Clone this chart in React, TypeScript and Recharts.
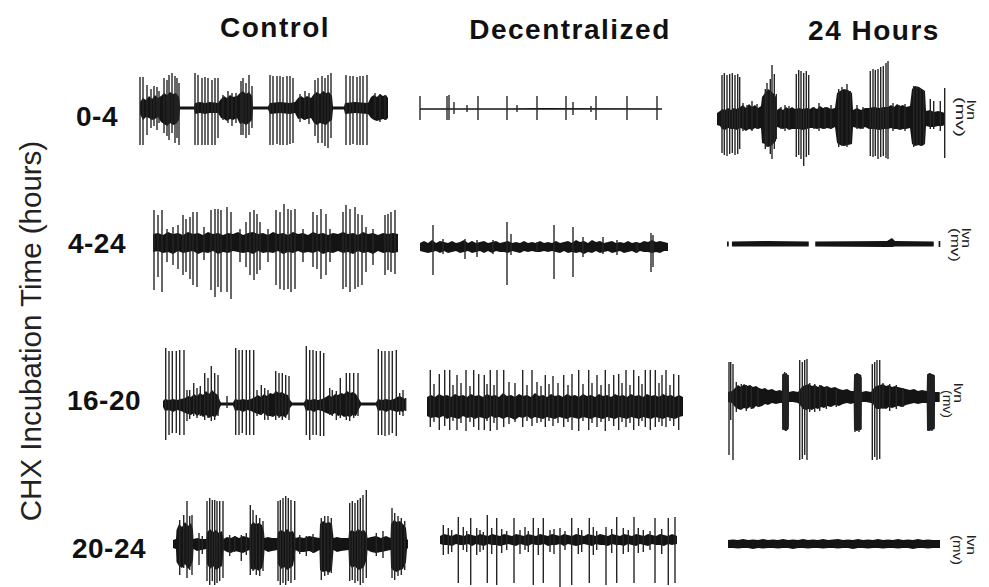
import { ComposedChart, XAxis, YAxis, Area, Scatter, ErrorBar } from "recharts";

// column / row categories
const columns = ["Control", "Decentralized", "24 Hours"];
const rowLabels = ["0-4", "4-24", "16-20", "20-24"];
const yTitle = "CHX Incubation Time (hours)";
const unitLabel = ["lvn", "(mv)"];

// each trace: spikes = [time, up, down], band = noise envelope [time, up, down]
const ctl04Spikes = [
  [0, 31, 37], [3, 31, 37], [7, 23, 27], [11, 19, 20], [14, 22, 18], [17, 21, 22], [19, 17, 15],
  [24, 30, 25], [27, 28, 28], [29, 33, 32], [32, 35, 25], [35, 32, 35], [37, 30, 30], [39, 25, 37],
  [55, 35, 37], [58, 33, 37], [62, 30, 37], [65, 31, 37], [68, 30, 37], [72, 28, 37], [75, 30, 37], [78, 30, 30],
  [83, 13, 12], [88, 17, 15], [92, 15, 18], [96, 15, 15],
  [101, 27, 27], [103, 30, 27], [106, 25, 30], [109, 33, 27], [112, 22, 20],
  [130, 33, 37], [133, 32, 37], [137, 32, 36], [140, 32, 37], [143, 31, 37], [147, 32, 37], [150, 32, 36], [153, 30, 35],
  [160, 14, 14], [165, 17, 12], [169, 15, 16],
  [175, 28, 28], [178, 30, 35], [182, 32, 35], [185, 30, 38], [188, 33, 40], [191, 35, 30],
  [206, 33, 37], [210, 32, 37], [213, 32, 36], [217, 31, 37], [220, 32, 37], [223, 32, 37], [227, 33, 37],
  [235, 15, 10], [240, 14, 14], [245, 13, 12],
];
const ctl04Band = [
  [0, 6, 6], [3, 10, 12], [6, 8, 9], [9, 12, 10], [12, 9, 12], [15, 13, 11], [18, 10, 9], [21, 12, 14],
  [24, 15, 16], [27, 13, 18], [30, 16, 15], [33, 14, 17], [36, 15, 16], [39, 11, 12], [40, 1.5, 1.5],
  [54, 1.5, 1.5], [55, 5, 6], [60, 6, 5], [65, 5, 6], [70, 6, 5], [78, 5, 5], [81, 9, 10], [84, 12, 11],
  [87, 10, 13], [90, 13, 11], [93, 11, 12], [97, 12, 10], [100, 15, 16], [103, 17, 15], [106, 14, 17],
  [109, 16, 15], [112, 12, 12], [113, 1.5, 1.5], [128, 1.5, 1.5], [130, 5, 6], [140, 6, 5], [150, 5, 6],
  [155, 6, 5], [158, 10, 11], [161, 12, 10], [164, 10, 12], [167, 12, 11], [171, 10, 10], [174, 14, 15],
  [177, 16, 17], [180, 14, 15], [183, 17, 16], [186, 15, 17], [189, 16, 14], [192, 12, 12], [193, 1.5, 1.5],
  [204, 1.5, 1.5], [205, 5, 6], [215, 6, 5], [228, 5, 6], [231, 11, 10], [234, 13, 12], [237, 11, 13],
  [240, 14, 12], [243, 12, 11], [246, 13, 12], [248, 10, 10],
];

const dec04Spikes = [
  [0, 13, 11], [27, 13, 11], [29, 14, 11], [34, 7, 5], [47, 4, 3], [58, 13, 11], [87, 13, 11], [97, 4, 3],
  [117, 13, 11], [146, 13, 11], [153, 7, 6], [171, 3, 3], [176, 13, 11], [207, 13, 11], [237, 13, 11],
];
const dec04Band = [[0, 0.8, 0.8], [120, 0.9, 0.8], [242, 0.8, 0.8]];

const hrs04Spikes = [
  [5, 44, 34], [7.3, 46, 36], [10, 44, 37], [12.7, 45, 35], [15.3, 46, 34], [18, 44, 36], [20.7, 45, 35], [22.7, 42, 30],
  [26, 16, 12], [30, 14, 10], [35, 18, 12], [40, 15, 10],
  [48.3, 30, 30], [50, 36, 28], [53.3, 40, 35], [55, 54, 40], [57.3, 45, 30], [59.3, 25, 20],
  [64, 12, 10], [68, 14, 12], [72, 13, 10],
  [79.3, 45, 38], [81.7, 49, 36], [84, 48, 40], [86.7, 46, 47], [89.3, 48, 38], [91.7, 44, 36],
  [97, 12, 10], [102, 16, 12], [108, 12, 10], [114, 14, 10],
  [121.7, 30, 28], [125, 32, 27], [130, 35, 28], [133.3, 28, 25],
  [140, 14, 10], [146, 12, 10],
  [153.3, 48, 37], [156, 50, 38], [158.3, 49, 37], [161, 50, 40], [163.7, 52, 38], [166.3, 53, 37], [169, 56, 39], [171, 58, 40],
  [176, 16, 12], [182, 14, 10], [188, 15, 12],
  [196.7, 33, 28], [200, 32, 26], [203.3, 30, 27], [206.7, 28, 25],
  [213.3, 20, 10], [216.7, 18, 10], [223.3, 18, 12], [227.7, 31, 39],
];
const hrs04Band = [
  [0, 6, 6], [3, 8, 7], [5, 10, 10], [8, 9, 11], [11, 11, 9], [14, 9, 10], [17, 11, 10], [20, 10, 11],
  [23, 12, 9], [26, 14, 10], [29, 11, 12], [32, 15, 10], [35, 12, 11], [38, 14, 9], [41, 11, 10], [44, 13, 9],
  [45, 22, 24], [48, 26, 25], [51, 30, 28], [54, 28, 27], [57, 25, 24], [59, 22, 22], [60, 9, 8], [63, 11, 9],
  [66, 9, 10], [69, 12, 9], [72, 10, 11], [75, 12, 10], [78, 10, 10], [82, 11, 10], [86, 10, 11], [90, 11, 10],
  [93, 10, 9], [96, 12, 9], [100, 10, 10], [103, 13, 9], [106, 11, 10], [110, 12, 9], [114, 10, 10],
  [118, 11, 8], [120, 26, 24], [123, 28, 26], [127, 30, 27], [131, 29, 26], [135, 26, 25], [136, 9, 8],
  [140, 11, 9], [144, 9, 10], [148, 11, 8], [152, 11, 10], [157, 12, 10], [162, 11, 11], [167, 12, 10],
  [171, 12, 10], [174, 14, 9], [177, 12, 10], [180, 15, 10], [183, 13, 11], [186, 14, 10], [189, 12, 10],
  [193, 13, 9], [195, 30, 25], [198, 33, 27], [202, 32, 26], [205, 30, 27], [208, 28, 25], [209, 8, 7],
  [213, 9, 8], [217, 7, 8], [221, 8, 7], [225, 7, 7], [228, 6, 6],
];

const ctl424Spikes = [
  [1, 33, 47], [5, 28, 34], [9, 33, 49], [14, 14, 19], [20, 16, 22], [25, 18, 26], [30, 28, 32], [33, 24, 29],
  [37, 26, 36], [40, 31, 42], [44, 31, 44], [51, 16, 17], [58, 33, 47], [62, 34, 54], [65, 34, 44], [68, 33, 49],
  [74, 36, 49], [78, 31, 56], [87, 14, 19], [93, 21, 24], [97, 31, 32], [101, 33, 37], [104, 29, 31], [107, 21, 27],
  [115, 14, 19], [123, 33, 42], [127, 31, 46], [131, 39, 47], [135, 34, 46], [138, 33, 49], [142, 34, 46],
  [150, 14, 19], [160, 31, 24], [164, 28, 26], [168, 34, 36], [173, 29, 32], [177, 14, 19], [190, 31, 46],
  [193, 38, 44], [197, 34, 49], [202, 36, 46], [205, 29, 44], [209, 28, 42], [213, 16, 29], [220, 14, 22],
  [232, 28, 32], [235, 29, 27], [238, 31, 29], [242, 33, 31],
];
const ctl424Band = [
  [0, 9, 9], [5, 10, 8], [10, 8, 10], [15, 11, 9], [20, 9, 11], [25, 10, 8], [30, 8, 10], [35, 11, 9],
  [40, 9, 8], [45, 10, 11], [50, 8, 9], [55, 11, 10], [60, 9, 8], [65, 10, 11], [70, 8, 9], [75, 10, 10],
  [80, 9, 8], [85, 11, 9], [90, 8, 10], [95, 10, 9], [100, 11, 11], [105, 9, 8], [110, 10, 10], [115, 8, 9],
  [120, 11, 10], [125, 9, 8], [130, 10, 11], [135, 8, 9], [140, 11, 10], [145, 9, 8], [150, 10, 10],
  [155, 8, 9], [160, 11, 10], [165, 9, 8], [170, 10, 11], [175, 8, 9], [180, 10, 10], [185, 9, 8],
  [190, 11, 10], [195, 9, 9], [200, 10, 11], [205, 8, 8], [210, 11, 10], [215, 9, 9], [220, 10, 11],
  [225, 8, 8], [230, 10, 10], [235, 9, 9], [240, 10, 10], [245, 9, 9],
];

const dec424Spikes = [
  [13, 22, 28], [23, 8, 7], [45, 8, 12], [57, 7, 10], [73, 7, 7], [87, 25, 38], [91, 13, 8], [117, 5, 5],
  [134, 22, 32], [153, 20, 30], [163, 10, 10], [183, 10, 7], [197, 7, 8], [217, 5, 6], [231, 14, 25], [233, 12, 20],
];
const dec424Band = [
  [0, 4, 4], [4, 6, 5], [8, 4, 6], [12, 7, 5], [16, 4, 4], [20, 6, 6], [24, 5, 4], [28, 4, 6], [32, 6, 5],
  [36, 4, 4], [40, 5, 6], [44, 7, 5], [48, 4, 4], [52, 6, 6], [56, 4, 5], [60, 5, 4], [64, 6, 6], [68, 4, 4],
  [72, 5, 6], [76, 6, 4], [80, 4, 5], [84, 5, 5], [88, 6, 6], [92, 4, 4], [96, 5, 5], [100, 4, 6], [104, 6, 4],
  [108, 4, 5], [112, 5, 4], [116, 4, 5], [120, 6, 5], [124, 4, 4], [128, 5, 5], [132, 4, 4], [136, 6, 5],
  [140, 4, 6], [144, 5, 4], [148, 6, 6], [152, 4, 5], [156, 7, 6], [160, 5, 5], [164, 6, 7], [168, 4, 5],
  [172, 7, 6], [176, 5, 4], [180, 6, 6], [184, 4, 5], [188, 5, 4], [192, 6, 6], [196, 4, 5], [200, 5, 4],
  [204, 4, 6], [208, 6, 5], [212, 4, 4], [216, 5, 6], [220, 4, 4], [224, 6, 5], [228, 5, 5], [232, 7, 6],
  [236, 5, 5], [240, 6, 6], [244, 5, 4], [248, 4, 4],
];

const hrs424Spikes: number[][] = [];
const hrs424Band = [
  [0, 2.5, 2.5], [1.7, 2.5, 2.5], [1.8, 0, 0], [4.9, 0, 0], [5, 2.5, 2.5], [40, 3, 2.5], [81.7, 2.5, 2.5],
  [81.8, 0, 0], [88.2, 0, 0], [88.3, 2.5, 2.5], [160, 3, 3], [165, 6, 3], [168, 3, 2.5], [206.7, 2.5, 2.5],
  [206.8, 0, 0], [211.6, 0, 0], [211.7, 3, 3], [213.3, 3, 3],
];

const ctl1620Spikes = [
  [2.7, 56, 36], [6, 53, 31], [9.3, 53, 29], [13.3, 53, 29], [16.7, 54, 31], [21, 54, 31],
  [24, 14, 17], [26.7, 14, 15], [30.7, 21, 12], [34, 16, 14], [37.3, 18, 12], [41.7, 31, 16], [45, 26, 14],
  [48.3, 38, 17], [51.7, 31, 16], [55, 29, 12], [64, 8, 4],
  [72.7, 56, 31], [76, 54, 31], [79.3, 54, 29], [83.3, 54, 31], [86.7, 54, 31], [90.7, 54, 31],
  [94, 14, 12], [98.3, 19, 11], [101.7, 16, 16], [105, 14, 16], [112.7, 33, 16], [116, 31, 14], [119.3, 31, 16],
  [122.7, 29, 14], [126, 28, 16],
  [143.3, 58, 31], [146.7, 54, 36], [150, 54, 31], [153.3, 53, 31], [157.3, 53, 32], [160.7, 51, 32],
  [166.7, 16, 11], [169.3, 14, 12], [173.3, 13, 16], [177.3, 26, 14], [183.3, 31, 16], [186.7, 31, 17],
  [190.7, 31, 14], [195, 31, 12],
  [215.3, 55, 31], [218.7, 53, 31], [222, 53, 32], [226, 53, 31], [229.3, 53, 29], [233.3, 54, 32],
  [236.7, 11, 11], [240, 14, 12], [242.7, 6, 7],
];
const ctl1620Band = [
  [0, 3, 3], [2, 5, 7], [6, 4, 6], [10, 5, 8], [14, 4, 6], [18, 5, 7], [22, 6, 9], [25, 8, 10], [28, 7, 11],
  [31, 10, 9], [34, 8, 12], [37, 11, 10], [40, 9, 13], [43, 13, 11], [46, 10, 14], [49, 14, 12], [52, 11, 13],
  [55, 9, 10], [57, 3, 3], [58, 1.5, 1.5], [70, 1.5, 1.5], [72, 5, 7], [76, 4, 6], [80, 5, 8], [84, 4, 6],
  [88, 5, 7], [92, 7, 9], [95, 9, 10], [98, 7, 11], [101, 10, 9], [104, 8, 12], [107, 11, 12], [110, 10, 13],
  [113, 13, 11], [116, 11, 13], [119, 12, 12], [122, 10, 13], [125, 9, 10], [127, 4, 4], [129, 1.5, 1.5],
  [141, 1.5, 1.5], [143, 5, 7], [147, 4, 6], [151, 5, 8], [155, 4, 6], [159, 5, 7], [163, 7, 9], [166, 9, 10],
  [169, 7, 11], [172, 10, 9], [175, 9, 12], [178, 11, 11], [181, 10, 13], [184, 13, 12], [187, 11, 13],
  [190, 12, 11], [193, 10, 12], [196, 5, 5], [198, 1.5, 1.5], [213, 1.5, 1.5], [215, 5, 7], [219, 4, 6],
  [223, 5, 8], [227, 4, 6], [231, 5, 7], [234, 7, 8], [237, 8, 7], [240, 6, 8], [243, 5, 5],
];

const dec1620Spikes = [
  [3.3, 37, 20], [12.3, 33, 23], [17.7, 37, 19], [22.7, 37, 23], [30, 32, 23], [39, 37, 24], [46.7, 37, 20],
  [51.7, 33, 23], [57.3, 32, 23], [63.3, 37, 24], [70, 37, 23], [76.7, 37, 20], [95.7, 37, 20], [105, 37, 19],
  [118.3, 32, 20], [126, 31, 19], [136.7, 32, 20], [145, 33, 23], [151.7, 37, 24], [161.7, 37, 23],
  [170, 32, 20], [178.3, 37, 24], [186.7, 32, 19], [191.7, 33, 23], [199, 37, 20], [206.7, 37, 23],
  [211.7, 31, 19], [218.3, 37, 20], [223.3, 37, 23], [228.3, 37, 20], [235, 32, 19], [239, 37, 20],
  [246.7, 33, 19], [251.7, 32, 23],
  [7, 23, 15], [26, 22, 14], [34, 24, 16], [43, 21, 15], [60, 23, 14], [67, 22, 16], [82, 25, 17], [88, 24, 15],
  [100, 22, 14], [110, 25, 16], [114, 21, 15], [122, 23, 14], [131, 24, 16], [141, 22, 15], [156, 23, 14],
  [165, 24, 16], [174, 22, 15], [182, 23, 14], [195, 24, 15], [203, 22, 16], [215, 23, 14], [232, 24, 15],
  [243, 22, 14],
];
const dec1620Band = [
  [0, 10, 9], [4, 12, 11], [8, 10, 10], [12, 13, 11], [16, 11, 9], [20, 12, 12], [24, 10, 10], [28, 13, 11],
  [32, 11, 12], [36, 12, 9], [40, 10, 11], [44, 13, 10], [48, 11, 12], [52, 12, 10], [56, 10, 11], [60, 13, 12],
  [64, 11, 9], [68, 12, 11], [72, 10, 10], [76, 14, 12], [80, 11, 10], [84, 12, 11], [88, 10, 13], [92, 13, 10],
  [96, 11, 11], [100, 12, 9], [104, 10, 12], [108, 14, 10], [112, 11, 11], [116, 12, 12], [120, 10, 10],
  [124, 13, 11], [128, 11, 12], [132, 12, 10], [136, 10, 11], [140, 13, 12], [144, 11, 10], [148, 12, 11],
  [152, 10, 12], [156, 13, 10], [160, 11, 11], [164, 12, 12], [168, 10, 10], [172, 13, 11], [176, 11, 12],
  [180, 12, 10], [184, 10, 11], [188, 13, 12], [192, 11, 10], [196, 12, 11], [200, 10, 12], [204, 13, 10],
  [208, 11, 11], [212, 12, 12], [216, 10, 10], [220, 13, 11], [224, 11, 12], [228, 12, 10], [232, 10, 11],
  [236, 13, 12], [240, 11, 10], [244, 12, 11], [248, 10, 12], [252, 12, 10], [256, 10, 9],
];

const hrs1620Spikes = [
  [1, 35, 58], [2.7, 35, 23], [5, 33, 63], [8.3, 15, 15], [13.3, 13, 12], [18.3, 12, 14], [23.3, 10, 12], [30, 8, 10],
  [55, 23, 33], [56.7, 25, 32], [58.3, 24, 34], [60, 22, 30],
  [71.7, 37, 63], [74.3, 35, 62], [76.7, 37, 58], [79, 38, 63],
  [81.7, 14, 15], [86.7, 13, 15], [91.7, 12, 14], [98.3, 10, 12], [108.3, 8, 10],
  [127, 23, 35], [129, 24, 33], [131, 22, 35], [133, 20, 32],
  [144.3, 33, 63], [146.7, 35, 60], [149, 37, 63], [151.7, 37, 62],
  [155, 14, 12], [161.7, 13, 14], [168.3, 12, 12], [175, 9, 10],
  [200, 23, 34], [202, 24, 33], [204, 22, 34], [206, 21, 30],
];
const hrs1620Band = [
  [0, 5, 5], [4, 6, 6], [7, 9, 10], [10, 12, 12], [13, 10, 13], [16, 13, 11], [19, 11, 12], [22, 12, 10],
  [25, 10, 12], [28, 11, 9], [31, 9, 10], [34, 8, 9], [37, 9, 7], [40, 7, 8], [44, 8, 6], [48, 6, 7], [52, 7, 6],
  [54, 6, 6], [54.3, 22, 32], [56, 24, 33], [58, 23, 34], [60.7, 22, 32], [61, 5, 5], [65, 6, 5], [70, 5, 6],
  [72, 8, 8], [75, 11, 12], [78, 12, 13], [81, 13, 12], [84, 11, 13], [87, 12, 11], [90, 10, 12], [93, 12, 10],
  [96, 10, 11], [99, 11, 9], [103, 9, 10], [107, 10, 8], [111, 8, 9], [115, 7, 7], [119, 8, 6], [123, 6, 7],
  [125.7, 6, 6], [126, 22, 33], [129, 24, 34], [131, 23, 33], [133.3, 22, 33], [133.6, 5, 5], [138, 6, 5],
  [143, 5, 6], [145, 8, 7], [148, 11, 12], [152, 12, 12], [155, 13, 11], [158, 11, 12], [161, 12, 10],
  [164, 10, 11], [167, 11, 10], [170, 10, 9], [174, 9, 10], [178, 8, 8], [182, 7, 7], [186, 8, 6], [190, 6, 7],
  [194, 7, 6], [198.7, 6, 6], [199, 22, 33], [201, 24, 34], [204, 23, 33], [206.7, 22, 32], [207, 5, 5],
  [211.7, 5, 5],
];

const ctl2024Spikes = [
  [6.7, 24, 31], [10.7, 29, 24], [14, 43, 34], [16.7, 28, 26], [19, 29, 31], [26, 11, 21], [29.3, 8, 10],
  [34, 43, 37], [36.7, 46, 41], [39.3, 44, 37], [41.7, 44, 41], [44, 43, 39], [46.7, 43, 37], [50, 43, 34],
  [56.7, 9, 12], [61.7, 8, 8], [68.3, 9, 17], [73.3, 11, 11],
  [77.3, 39, 31], [80, 34, 27], [83.3, 29, 31], [86.7, 26, 32], [90, 23, 27],
  [105, 43, 37], [107.3, 44, 41], [110, 46, 39], [112.7, 48, 41], [115.3, 46, 37], [118, 44, 39], [121.7, 43, 36],
  [126.7, 9, 10], [133.3, 8, 12], [140, 10, 9],
  [148.3, 26, 36], [151.7, 28, 32], [155, 28, 31], [158.3, 26, 29],
  [176.7, 41, 37], [179.3, 43, 36], [182, 41, 39], [184.7, 44, 37], [187.3, 46, 41], [190, 49, 39], [193.3, 54, 34],
  [203.3, 11, 12], [210, 13, 14],
  [219, 36, 34], [221.7, 31, 36], [225, 28, 32], [228.3, 26, 31], [231.7, 23, 26],
];
const ctl2024Band = [
  [0, 4, 4], [3, 5, 5], [3.5, 14, 18], [6, 20, 22], [9, 17, 24], [12, 22, 20], [15, 18, 25], [18, 21, 22],
  [20, 14, 16], [20.5, 5, 5], [24, 6, 7], [28, 5, 6], [33.5, 5, 5], [34, 12, 20], [37, 15, 25], [40, 12, 22],
  [43, 14, 26], [46, 11, 24], [49, 13, 22], [50.5, 5, 6], [54, 7, 8], [58, 6, 9], [62, 8, 7], [66, 6, 8],
  [70, 8, 9], [74, 7, 7], [76.5, 6, 6], [77, 18, 24], [80, 22, 26], [83, 20, 25], [86, 21, 27], [89, 19, 24],
  [91, 12, 14], [91.5, 6, 6], [95, 7, 8], [99, 6, 7], [104.5, 6, 6], [105, 12, 20], [108, 14, 25], [111, 12, 23],
  [114, 15, 26], [117, 12, 24], [120, 13, 22], [122, 8, 10], [122.5, 6, 6], [126, 7, 8], [131, 6, 8],
  [136, 8, 7], [141, 7, 9], [146.5, 6, 6], [147, 20, 26], [150, 23, 28], [153, 21, 27], [156, 22, 29],
  [159, 20, 25], [160.5, 6, 6], [164, 7, 8], [168, 6, 7], [175.5, 6, 6], [176, 12, 20], [179, 14, 24],
  [182, 12, 22], [185, 15, 26], [188, 13, 25], [191, 14, 23], [194, 10, 14], [194.5, 6, 6], [198, 7, 8],
  [203, 8, 9], [208, 6, 8], [213, 8, 7], [217.5, 6, 6], [218, 20, 24], [221, 24, 27], [224, 22, 28],
  [227, 23, 26], [230, 20, 25], [233, 16, 18], [234, 5, 5], [235, 4, 4],
];

const dec2024Spikes = [
  [3.3, 15, 15], [18.3, 23, 43], [30.7, 22, 45], [47.3, 25, 43], [56.7, 22, 45], [74, 22, 43], [93.3, 22, 45],
  [103.3, 22, 43], [120, 12, 47], [131.7, 22, 45], [149.3, 22, 43], [166, 13, 45], [176.7, 23, 43], [194, 23, 43],
  [215, 22, 43], [228.3, 22, 45], [235, 23, 43],
  [8.3, 12, 14], [11.7, 10, 12], [23.3, 13, 10], [26.7, 9, 12], [36.7, 12, 15], [40, 10, 12], [43.3, 8, 10],
  [51.7, 12, 14], [61.7, 11, 13], [66.7, 9, 10], [80, 10, 14], [85, 13, 10], [88.3, 9, 12], [98.3, 12, 15],
  [110, 10, 12], [114, 11, 14], [125, 9, 10], [138.3, 12, 14], [141.7, 10, 12], [153.3, 13, 15], [156.7, 9, 10],
  [171.7, 11, 13], [183.3, 12, 14], [188.3, 10, 12], [198.3, 12, 13], [203.3, 10, 12], [210, 9, 10], [221.7, 11, 14],
];
const dec2024Band = [
  [0, 4, 4], [4, 6, 5], [8, 5, 5], [12, 4, 6], [16, 6, 4], [20, 5, 5], [24, 4, 5], [28, 6, 4], [32, 5, 6],
  [36, 4, 4], [40, 6, 5], [44, 5, 6], [48, 4, 4], [52, 6, 5], [56, 5, 5], [60, 4, 6], [64, 6, 5], [68, 5, 4],
  [72, 4, 5], [76, 6, 6], [80, 5, 4], [84, 4, 5], [88, 6, 6], [92, 5, 4], [96, 4, 5], [100, 6, 5], [104, 5, 4],
  [108, 4, 6], [112, 6, 5], [116, 5, 5], [120, 4, 4], [124, 6, 6], [128, 5, 4], [132, 4, 5], [136, 6, 6],
  [140, 5, 5], [144, 4, 4], [148, 6, 5], [152, 5, 6], [156, 4, 4], [160, 6, 5], [164, 5, 5], [168, 4, 6],
  [172, 6, 4], [176, 5, 5], [180, 4, 5], [184, 6, 6], [188, 5, 4], [192, 4, 5], [196, 6, 6], [200, 5, 4],
  [204, 4, 5], [208, 6, 6], [212, 5, 4], [216, 4, 5], [220, 6, 5], [224, 5, 6], [228, 4, 4], [232, 6, 5],
  [237, 4, 4],
];

const hrs2024Spikes: number[][] = [];
const hrs2024Band = [
  [0, 4, 4], [5, 4.5, 4], [10, 4, 4.5], [15, 5, 4], [20, 4, 4], [25, 4.5, 5], [30, 4, 4], [35, 5, 4.5],
  [40, 4, 4], [45, 4.5, 4], [50, 4, 4.5], [55, 5, 4], [60, 4, 4], [65, 4.5, 5], [70, 4, 4], [75, 5, 4],
  [80, 4, 4.5], [85, 4.5, 4], [90, 4, 4], [95, 5, 4.5], [100, 4, 4], [105, 4.5, 4], [110, 5, 4.5], [115, 4, 4],
  [120, 4.5, 4], [125, 4, 5], [130, 5, 4], [135, 4, 4], [140, 4.5, 4.5], [145, 4, 4], [150, 5, 4],
  [155, 4, 4.5], [160, 4.5, 4], [165, 4, 4], [170, 5, 4.5], [175, 4, 4], [180, 4.5, 4], [185, 4, 5],
  [190, 5, 4], [195, 4, 4], [200, 4.5, 4.5], [205, 4, 4], [212, 4, 4],
];

// page layout of each trace (row by row, columns Control / Decentralized / 24 Hours)
const traces = [
  { spikes: ctl04Spikes, band: ctl04Band, left: 140, base: 107.7, span: 248, up: 37, down: 41 },
  { spikes: dec04Spikes, band: dec04Band, left: 420, base: 109.3, span: 242, up: 15, down: 13 },
  { spikes: hrs04Spikes, band: hrs04Band, left: 716.7, base: 119.3, span: 228, up: 59, down: 48 },
  { spikes: ctl424Spikes, band: ctl424Band, left: 153.3, base: 242.7, span: 245, up: 40, down: 57 },
  { spikes: dec424Spikes, band: dec424Band, left: 420, base: 246.7, span: 248, up: 26, down: 39 },
  { spikes: hrs424Spikes, band: hrs424Band, left: 726.7, base: 244.3, span: 214, up: 7, down: 5 },
  { spikes: ctl1620Spikes, band: ctl1620Band, left: 163.3, base: 404.3, span: 243, up: 59, down: 37 },
  { spikes: dec1620Spikes, band: dec1620Band, left: 426.7, base: 406.7, span: 257, up: 38, down: 26 },
  { spikes: hrs1620Spikes, band: hrs1620Band, left: 728.3, base: 396.7, span: 212, up: 39, down: 64 },
  { spikes: ctl2024Spikes, band: ctl2024Band, left: 173.3, base: 544.3, span: 235, up: 55, down: 42 },
  { spikes: dec2024Spikes, band: dec2024Band, left: 440, base: 540, span: 237, up: 26, down: 48 },
  { spikes: hrs2024Spikes, band: hrs2024Band, left: 728.3, base: 544.3, span: 212, up: 6, down: 6 },
];

const INK = "#141414";
const SPIKE = "#262626";
const PAD = 2;

const noDot = () => <g />;

function Trace({ spikes, band, left, base, span, up, down }: any) {
  const bandRows = band.map(([t, hi, lo]: number[]) => ({ t, band: [-lo, hi] }));
  const spikeRows = spikes.map(([t, hi, lo]: number[]) => ({ t, v: 0, err: [lo, hi] }));
  return (
    <div style={{ position: "absolute", left: left - PAD, top: base - up }}>
      <ComposedChart
        width={span + PAD * 2}
        height={up + down}
        data={bandRows}
        margin={{ top: 0, right: 0, bottom: 0, left: 0 }}
      >
        <XAxis dataKey="t" type="number" domain={[-PAD, span + PAD]} hide allowDataOverflow />
        <YAxis type="number" domain={[-down, up]} hide allowDataOverflow />
        <Area
          dataKey="band"
          type="linear"
          stroke="none"
          fill={INK}
          fillOpacity={1}
          isAnimationActive={false}
        />
        <Scatter data={spikeRows} dataKey="v" shape={noDot} isAnimationActive={false}>
          <ErrorBar dataKey="err" direction="y" width={0} stroke={SPIKE} strokeWidth={1.4} isAnimationActive={false} />
        </Scatter>
      </ComposedChart>
    </div>
  );
}

const colX = [275, 570, 874];
const colY = [27, 29, 30];
const rowX = [97, 97, 104, 109];
const rowY = [116, 243, 400, 548];
// unit label per row: baseline x and start y of "lvn", then of "(mv)", then the "(mv)" length
const unitPos = [
  [967, 100, 956, 97, 40],
  [962, 228, 951, 228, 34],
  [954, 383, 943, 390, 28],
  [967, 535, 953, 535, 30],
];

export default function App() {
  const font = "'Liberation Sans', Arial, sans-serif";
  return (
    <div style={{ position: "absolute", left: 0, top: 0, width: 989, height: 587, background: "#fff" }}>
      {traces.map((tr, i) => (
        <Trace key={i} {...tr} />
      ))}
      <svg width={989} height={587} style={{ position: "absolute", left: 0, top: 0 }} fontFamily={font}>
        {columns.map((c, i) => (
          <text key={c} x={colX[i]} y={colY[i]} textAnchor="middle" dominantBaseline="central"
            fontSize={28} fontWeight="bold" letterSpacing={1.5} fill="#111">
            {c}
          </text>
        ))}
        {rowLabels.map((r, i) => (
          <text key={r} x={rowX[i]} y={rowY[i]} textAnchor="middle" dominantBaseline="central"
            fontSize={28} fontWeight="bold" letterSpacing={0.5} fill="#111">
            {r}
          </text>
        ))}
        <text x={30} y={331} textAnchor="middle" dominantBaseline="central" fontSize={29.5} fill="#222"
          transform="rotate(-90, 30, 331)">
          {yTitle}
        </text>
        {unitPos.map(([x1, y1, x2, y2, len], i) => (
          <g key={i} fontSize={12.5} fill="#222">
            <text x={x1} y={y1} transform={`rotate(90, ${x1}, ${y1})`} textLength={20}
              lengthAdjust="spacingAndGlyphs">
              {unitLabel[0]}
            </text>
            <text x={x2} y={y2} transform={`rotate(90, ${x2}, ${y2})`} textLength={len}
              lengthAdjust="spacingAndGlyphs">
              {unitLabel[1]}
            </text>
          </g>
        ))}
      </svg>
    </div>
  );
}
